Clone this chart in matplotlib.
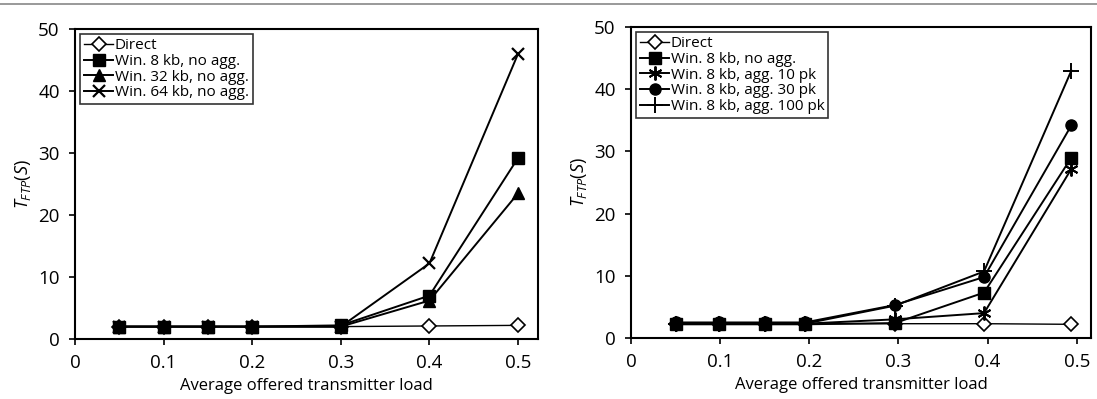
import matplotlib
matplotlib.use("Agg")
import matplotlib.pyplot as plt
from matplotlib.lines import Line2D

plt.rcParams['font.family'] = ['Open Sans', 'DejaVu Sans']
plt.rcParams['mathtext.fontset'] = 'custom'
plt.rcParams['mathtext.it'] = 'Open Sans:italic'
plt.rcParams['mathtext.rm'] = 'Open Sans'

# Left panel: effect of window size, no aggregation
load_left = [0.05, 0.1, 0.15, 0.2, 0.3, 0.4, 0.5]
direct_left = [2.0, 2.0, 2.0, 2.0, 2.0, 2.1, 2.2]
win8_left = [2.0, 2.0, 2.0, 2.0, 2.2, 7.0, 29.2]
win32_left = [2.0, 2.0, 2.0, 2.0, 2.0, 6.2, 23.5]
win64_left = [2.0, 2.0, 2.0, 2.0, 2.0, 12.2, 46.0]

# Right panel: 8 kb window with packet aggregation
load_right = [0.05, 0.099, 0.15, 0.195, 0.296, 0.396, 0.494]
direct_right = [2.3, 2.3, 2.3, 2.3, 2.3, 2.3, 2.2]
win8_right = [2.2, 2.2, 2.2, 2.2, 2.4, 7.3, 29.0]
agg10_right = [2.3, 2.3, 2.3, 2.3, 3.0, 4.0, 27.2]
agg30_right = [2.5, 2.5, 2.5, 2.5, 5.3, 9.8, 34.2]
agg100_right = [2.3, 2.3, 2.3, 2.3, 5.2, 10.7, 43.0]

xticks = [0, 0.1, 0.2, 0.3, 0.4, 0.5]
xtick_labels = ['0', '0.1', '0.2', '0.3', '0.4', '0.5']
yticks = [0, 10, 20, 30, 40, 50]

fig = plt.figure(figsize=(10.97, 3.99), dpi=100)
W, H = 1097, 399

def make_axes(x0, x1, y0, y1):
    return fig.add_axes([x0 / W, 1 - y1 / H, (x1 - x0) / W, (y1 - y0) / H])

ax1 = make_axes(75, 538, 29, 339)
ax2 = make_axes(631, 1091, 27, 338)

lw = 1.4
ms = 8

ax1.plot(load_left, direct_left, color='black', lw=1.0, marker='D', ms=7,
         mfc='white', mec='black', mew=1.2, label='Direct', zorder=2)
ax1.plot(load_left, win8_left, color='black', lw=lw, marker='s', ms=ms,
         mfc='black', label='Win. 8 kb, no agg.', zorder=3)
ax1.plot(load_left, win32_left, color='black', lw=lw, marker='^', ms=ms + 1,
         mfc='black', label='Win. 32 kb, no agg.', zorder=3)
ax1.plot(load_left, win64_left, color='black', lw=lw, marker='x', ms=ms,
         mew=1.6, label='Win. 64 kb, no agg.', zorder=3)

ax2.plot(load_right, direct_right, color='black', lw=1.0, marker='D', ms=7,
         mfc='white', mec='black', mew=1.2, label='Direct', zorder=2)
ax2.plot(load_right, win8_right, color='black', lw=lw, marker='s', ms=ms,
         mfc='black', label='Win. 8 kb, no agg.', zorder=3)
ax2.plot(load_right, agg10_right, color='black', lw=lw, marker=(6, 2, 0), ms=10,
         mew=1.4, label='Win. 8 kb, agg. 10 pk', zorder=3)
ax2.plot(load_right, agg30_right, color='black', lw=lw, marker='o', ms=ms,
         mfc='black', label='Win. 8 kb, agg. 30 pk', zorder=3)
ax2.plot(load_right, agg100_right, color='black', lw=lw, marker='+', ms=11,
         mew=1.4, label='Win. 8 kb, agg. 100 pk', zorder=3)

for ax, xmax in ((ax1, 0.5225), (ax2, 0.516)):
    ax.set_xlim(0, xmax)
    ax.set_ylim(0, 50)
    ax.set_xticks(xticks)
    ax.set_xticklabels(xtick_labels)
    ax.set_yticks(yticks)
    ax.tick_params(direction='out', length=4, width=1.2, labelsize=13.5,
                   pad=7, colors='black')
    for s in ax.spines.values():
        s.set_linewidth(1.5)
        s.set_color('black')
    ax.set_xlabel('Average offered transmitter load', fontsize=12, labelpad=4)
    ax.set_ylabel(r'$T_{FTP}(S)$', fontsize=13, labelpad=4)
    leg = ax.legend(loc='upper left', fontsize=11, frameon=True, fancybox=False,
                    handlelength=1.9, handletextpad=0.1, labelspacing=0.05,
                    borderpad=0.25, borderaxespad=0.35)
    leg.get_frame().set_edgecolor('black')
    leg.get_frame().set_linewidth(1.2)

# Thin rule across the top of the figure
fig.add_artist(Line2D([0, 1], [1 - 4 / H, 1 - 4 / H], transform=fig.transFigure,
                      color='#888888', lw=1.2))

fig.savefig('out.png', dpi=100)
